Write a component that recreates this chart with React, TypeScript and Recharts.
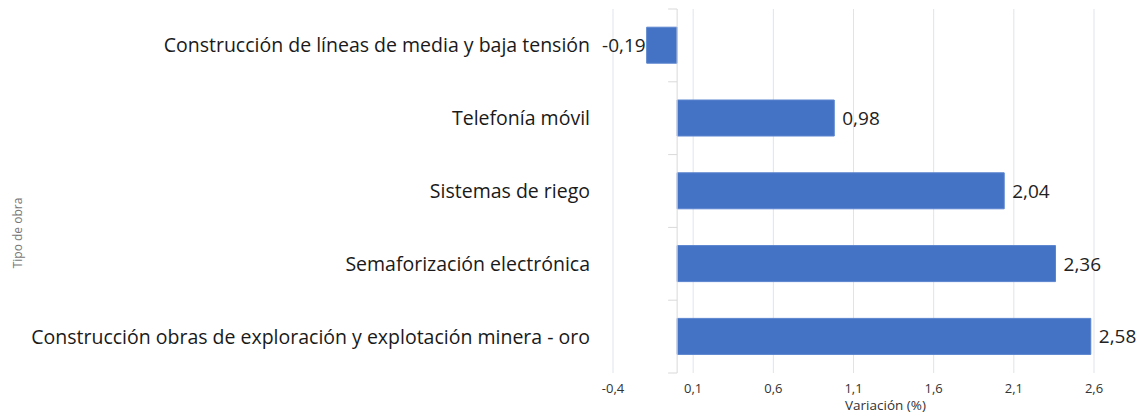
import {
  BarChart, Bar, XAxis, YAxis, CartesianGrid, ReferenceLine, LabelList,
} from 'recharts'

const categories = [
  'Construcción de líneas de media y baja tensión',
  'Telefonía móvil',
  'Sistemas de riego',
  'Semaforización electrónica',
  'Construcción obras de exploración y explotación minera - oro',
]
const variation = [-0.19, 0.98, 2.04, 2.36, 2.58]
const xTicks = [-0.4, 0.1, 0.6, 1.1, 1.6, 2.1, 2.6]

const data = categories.map((name, i) => ({ name, value: variation[i] }))

const FONT = '"Open Sans", "Noto Sans", sans-serif'
const fmt = (v: number) => v.toFixed(2).replace(/0$/, '').replace('.', ',')
const fmtTick = (v: number) => String(v).replace('.', ',')

// axis line at x = 0 with small tick marks between categories
const ZeroAxis = (props: any) => {
  const { x1, y1, y2 } = props
  const n = categories.length
  const step = (y2 - y1) / n
  const marks = Array.from({ length: n + 1 }, (_, i) => y1 + i * step)
  return (
    <g>
      <line x1={x1} y1={y1} x2={x1} y2={y2} stroke="#d9d9d9" strokeWidth={1} />
      {marks.map((y, i) => (
        <line key={i} x1={x1 - 9} y1={y} x2={x1} y2={y} stroke="#d9d9d9" strokeWidth={1} />
      ))}
    </g>
  )
}

const ValueLabel = (props: any) => {
  const { x, y, width, height, value } = props
  const left = Math.min(x, x + width)
  const right = Math.max(x, x + width)
  const neg = value < 0
  return (
    <text
      x={neg ? left - 1 : right + 8}
      y={y + height / 2}
      dy={7}
      textAnchor={neg ? 'end' : 'start'}
      fontSize={19}
      fontFamily={FONT}
      fill="#222"
    >
      {fmt(value)}
    </text>
  )
}

export default function App() {
  return (
    <div style={{ position: 'absolute', left: 0, top: 0, width: 1141, height: 414, background: '#fff' }}>
      <BarChart
        width={1141}
        height={414}
        data={data}
        layout="vertical"
        margin={{ top: 9, right: 47, bottom: 0, left: 0 }}
        barCategoryGap="25%"
      >
        <CartesianGrid horizontal={false} stroke="#dfe4ea" />
        <XAxis
          type="number"
          domain={[-0.4, 2.6]}
          ticks={xTicks}
          tickFormatter={fmtTick}
          axisLine={false}
          tickLine={false}
          height={41}
          tickMargin={5}
          tick={{ fontSize: 13, fill: '#333', fontFamily: FONT }}
          label={{
            content: ({ viewBox }: any) => (
              <text
                x={viewBox.x + viewBox.width / 2 + 32}
                y={viewBox.y + 37}
                textAnchor="middle"
                fontSize={13.5}
                fontFamily={FONT}
                fill="#333"
              >
                Variación (%)
              </text>
            ),
          }}
        />
        <YAxis
          type="category"
          dataKey="name"
          width={613}
          axisLine={false}
          tickLine={false}
          tickSize={0}
          tickMargin={23}
          tick={{ fontSize: 19.5, fill: '#1a1a1a', fontFamily: FONT }}
          label={{
            content: ({ viewBox }: any) => {
              const cx = 17
              const cy = viewBox.y + viewBox.height / 2 + 42
              return (
                <text
                  x={cx}
                  y={cy}
                  transform={`rotate(-90 ${cx} ${cy})`}
                  textAnchor="middle"
                  dominantBaseline="central"
                  fontSize={12}
                  fontFamily={FONT}
                  fill="#777"
                >
                  Tipo de obra
                </text>
              )
            },
          }}
        />
        <ReferenceLine x={0} shape={<ZeroAxis />} />
        <Bar dataKey="value" fill="#4472c4" stroke="#5a84cf" strokeWidth={1} isAnimationActive={false}>
          <LabelList dataKey="value" content={<ValueLabel />} />
        </Bar>
      </BarChart>
    </div>
  )
}
